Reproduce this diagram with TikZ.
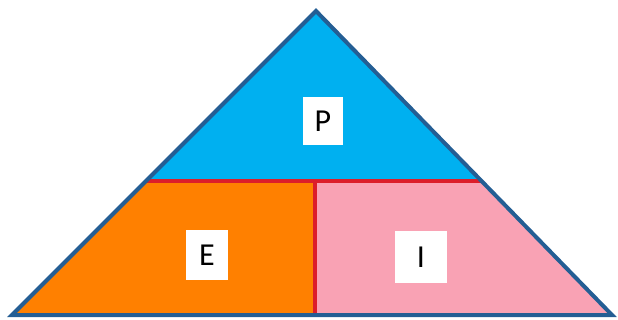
\documentclass[tikz,border=0pt]{standalone}
\usepackage{fontspec}
\setmainfont{Carlito}
\usepackage{xcolor}
\usetikzlibrary{calc}
\definecolor{topblue}{HTML}{00B0F0}
\definecolor{midorange}{HTML}{FF8000}
\definecolor{rightpink}{HTML}{F9A2B4}
\definecolor{edgeblue}{HTML}{245E94}
\definecolor{splitred}{HTML}{DC1E2A}
\begin{document}
\begin{tikzpicture}[x=1pt,y=-1pt,
  letterbox/.style={fill=white,inner sep=0pt,font=\fontsize{32}{32}\selectfont}]
  \useasboundingbox (0,0) rectangle (618,320);
  % corners and split points
  \coordinate (apex) at (316,11);
  \coordinate (bl) at (12,315);
  \coordinate (br) at (612,315);
  \coordinate (ml) at (146,181);
  \coordinate (mr) at (481,181);
  \coordinate (mt) at (315,181);
  \coordinate (mb) at (315,315);
  % the three parts
  \fill[topblue] (apex) -- (ml) -- (mr) -- cycle;
  \fill[midorange] (ml) -- (mt) -- (mb) -- (bl) -- cycle;
  \fill[rightpink] (mt) -- (mr) -- (br) -- (mb) -- cycle;
  \draw[splitred,line width=3.5pt] (ml) -- (mr);
  \draw[splitred,line width=3.5pt] (mt) -- (mb);
  \draw[edgeblue,line width=4pt,line join=miter] (apex) -- (br) -- (bl) -- cycle;
  % labels
  \node[letterbox,minimum width=40pt,minimum height=48pt](p) at (323,121){P};
  \node[letterbox,minimum width=42pt,minimum height=50pt](e) at (207,255){E};
  \node[letterbox,minimum width=52pt,minimum height=51pt](i) at (421,257){I};
\end{tikzpicture}
\end{document}
